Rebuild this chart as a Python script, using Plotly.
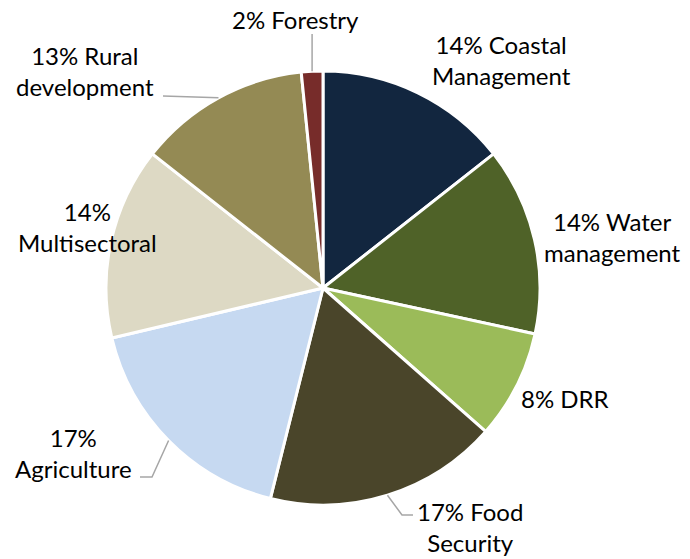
import math
import plotly.graph_objects as go

# ---- data ----
categories = ["Coastal Management", "Water management", "DRR", "Food Security",
              "Agriculture", "Multisectoral", "Rural development", "Forestry"]
shares = [14.4, 14.0, 8.1, 17.4, 17.4, 14.3, 12.8, 1.6]
label_lines = [("Coastal", "Management"), ("Water", "management"), ("DRR", None),
               ("Food", "Security"), (None, "Agriculture"), (None, "Multisectoral"),
               ("Rural", "development"), ("Forestry", None)]

colors = ["#12263F", "#4F6228", "#9BBB59", "#4A452A", "#C6D9F1", "#DDD9C4", "#948A54", "#772C2A"]

W, H = 690, 559
CX, CY, R = 323, 288, 217

# label centres (pixels)
label_pos = [(501, 60), (612, 237), (565, 398), (470, 527),
             (73, 453), (87, 227), (85, 71), (295, 19)]
# leader line extra points (pixels) for some labels; index -> list of points after edge point
leaders = {3: [(402, 515), (413, 515)], 4: [(152, 477), (140, 477)],
           6: [(163, 96)], 7: [(None, 34)]}

def px(x):
    return x / W

def py(y):
    return (H - y) / H

fig = go.Figure(go.Pie(
    labels=categories, values=shares, sort=False, direction="clockwise", rotation=0,
    marker=dict(colors=colors, line=dict(color="white", width=3)),
    textinfo="none", hoverinfo="label+percent",
    domain=dict(x=[px(CX - R), px(CX + R)], y=[py(CY + R), py(CY - R)]),
))

total = sum(shares)
cum = 0
annotations = []
shapes = []
for i, (cat, v) in enumerate(zip(categories, shares)):
    pct = round(v / total * 100)
    a, b = label_lines[i]
    if a is None:
        text = f"{pct}%<br>{b}"
    elif b is None:
        text = f"{pct}% {a}"
    else:
        text = f"{pct}% {a}<br>{b}"
    lx, ly = label_pos[i]
    annotations.append(dict(x=px(lx), y=py(ly), xref="paper", yref="paper", text=text,
                            showarrow=False, xanchor="center", yanchor="middle", align="center",
                            font=dict(family="Lato, Carlito, sans-serif", size=24, color="#000000")))
    mid = (cum + v / 2) / total * 2 * math.pi
    cum += v
    if i in leaders:
        ex = CX + R * math.sin(mid)
        ey = CY - R * math.cos(mid)
        pts = [(ex, ey)] + [((ex if x is None else x), y) for x, y in leaders[i]]
        path = "M " + " L ".join(f"{px(x):.5f},{py(y):.5f}" for x, y in pts)
        shapes.append(dict(type="path", path=path, xref="paper", yref="paper",
                           line=dict(color="#A6A6A6", width=1.5)))

fig.update_layout(width=W, height=H, margin=dict(l=0, r=0, t=0, b=0),
                  paper_bgcolor="white", plot_bgcolor="white", showlegend=False,
                  annotations=annotations, shapes=shapes)
fig.write_html("out.html", config={"displayModeBar": False},
               post_script="document.body.style.margin='0';document.body.style.padding='0';"
                           "document.body.style.overflow='hidden';")
